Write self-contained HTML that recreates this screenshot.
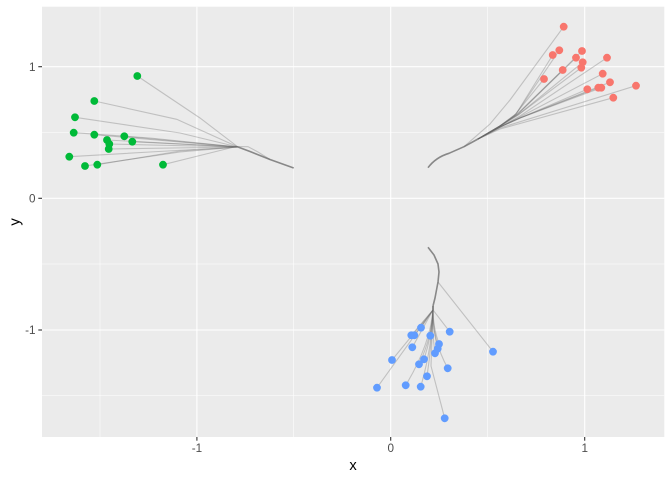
<!DOCTYPE html>
<html><head><meta charset="utf-8"><style>html,body{margin:0;padding:0;background:#fff}svg{display:block}</style></head>
<body>
<svg width="672" height="480" viewBox="0 0 672 480" xmlns="http://www.w3.org/2000/svg" font-family="Liberation Sans, sans-serif">
<rect x="0" y="0" width="672" height="480" fill="#fff"/>
<rect x="42" y="6.7" width="622.3" height="430.3" fill="#EBEBEB"/>
<g stroke="#fff" stroke-width="0.55" fill="none">
<line x1="100" y1="6.7" x2="100" y2="437"/>
<line x1="293.7" y1="6.7" x2="293.7" y2="437"/>
<line x1="487.7" y1="6.7" x2="487.7" y2="437"/>
<line x1="42" y1="132.6" x2="664.3" y2="132.6"/>
<line x1="42" y1="264" x2="664.3" y2="264"/>
<line x1="42" y1="395.6" x2="664.3" y2="395.6"/>
</g>
<g stroke="#fff" stroke-width="1.1" fill="none">
<line x1="196.9" y1="6.7" x2="196.9" y2="437"/>
<line x1="390.7" y1="6.7" x2="390.7" y2="437"/>
<line x1="584.7" y1="6.7" x2="584.7" y2="437"/>
<line x1="42" y1="66.7" x2="664.3" y2="66.7"/>
<line x1="42" y1="198.3" x2="664.3" y2="198.3"/>
<line x1="42" y1="330" x2="664.3" y2="330"/>
</g>
<!-- trunks -->
<g stroke="#888" stroke-width="1.6" fill="none" stroke-linejoin="round">
<path d="M293.7,168 L270,159.5 L250,151.5 L238,147"/>
<path d="M428,167.7 C433,161 440,156 449,153.3 L464,146.7 L478,139"/>
<path d="M428,247.3 L434,255 L438,264 L439,272 L438,282 L435,298 L433,306"/>
</g>
<!-- green lines -->
<g stroke="#666" stroke-opacity="0.32" stroke-width="1.1" fill="none">
<path d="M238,147 L200,118 L137.3,76"/>
<path d="M238,147 L176.7,119.3 L94.3,101"/>
<path d="M238,147 L180,133 L75,117.3"/>
<path d="M238,147 L150,138 L73.7,132.7"/>
<path d="M238,147 L94.3,134.7"/>
<path d="M238,147 L107,140"/>
<path d="M238,147 L109.3,144"/>
<path d="M238,147 L108.7,149"/>
<path d="M238,147 L124.3,136.3"/>
<path d="M238,147 L132.3,141.7"/>
<path d="M238,147 L150,152 L69.3,156.7"/>
<path d="M238,147 L180,152 L85,166"/>
<path d="M238,147 L180,151 L97.3,164.7"/>
<path d="M270,159.5 L258,152 L248,146.7 L236,146.5 L210,153 L163,164.7"/>
</g>
<!-- red lines -->
<g stroke="#666" stroke-opacity="0.32" stroke-width="1.1" fill="none">
<path d="M464,146.7 L490,124 L510,100 L563.7,26.7"/>
<path d="M478,139 L500,126 L516,114 L552.7,55"/>
<path d="M478,139 L500,126 L516,114 L559.3,50.3"/>
<path d="M478,139 L500,126 L518,114 L582,51"/>
<path d="M478,139 L500,126 L518,114 L576,57.7"/>
<path d="M478,139 L500,126 L518,115 L582.7,62.3"/>
<path d="M478,139 L500,126 L518,115 L581.3,67.7"/>
<path d="M478,139 L500,126 L516,115 L562.7,70"/>
<path d="M478,139 L500,126 L514,116 L544,79"/>
<path d="M478,139 L500,127 L520,116 L607,57.7"/>
<path d="M478,139 L500,127 L520,117 L602.7,73.7"/>
<path d="M478,139 L500,127 L520,118 L610,82.3"/>
<path d="M478,139 L500,127 L520,118 L587.3,89.3"/>
<path d="M478,139 L500,127 L520,118 L598.3,87.7"/>
<path d="M478,139 L500,127 L520,118 L601.3,87.7"/>
<path d="M478,139 L500,128 L636,85.7"/>
<path d="M478,139 L500,129 L613.3,97.7"/>
</g>
<!-- blue lines -->
<g stroke="#666" stroke-opacity="0.32" stroke-width="1.1" fill="none">
<path d="M438,282 L493,351.7"/>
<path d="M433,306 L433,310 L421,327.7"/>
<path d="M433,306 L433,310 L449.7,331.7"/>
<path d="M433,306 L433,310 L411.3,335.3"/>
<path d="M433,306 L433,310 L414.3,335.3"/>
<path d="M433,306 L433,310 L430.3,335.7"/>
<path d="M433,306 L433,310 L412.3,347.3"/>
<path d="M433,306 L433,310 Q433,327 439,344"/>
<path d="M433,306 L433,310 Q433,330 437.7,348.7"/>
<path d="M433,306 L433,310 Q432,332 435,353.3"/>
<path d="M433,306 L433,310 L392,360"/>
<path d="M433,306 L433,310 Q432,335 424,359.3"/>
<path d="M433,306 L433,310 Q432,337 419,364.3"/>
<path d="M433,306 L433,310 Q432,339 447.7,368.3"/>
<path d="M433,306 L433,310 Q432,343 427,376.3"/>
<path d="M433,306 L433,310 Q430,345 405.7,385.3"/>
<path d="M433,306 L433,310 Q432,348 420.7,386.7"/>
<path d="M433,306 L433,310 L377,387.7"/>
<path d="M433,306 L433,310 L431,366 L444.7,418.3"/>
</g>
<!-- points -->
<g fill="#00BA38">
<circle cx="137.3" cy="76" r="3.9"/><circle cx="94.3" cy="101" r="3.9"/><circle cx="75" cy="117.3" r="3.9"/>
<circle cx="73.7" cy="132.7" r="3.9"/><circle cx="94.3" cy="134.7" r="3.9"/><circle cx="107" cy="140" r="3.9"/>
<circle cx="109.3" cy="144" r="3.9"/><circle cx="108.7" cy="149" r="3.9"/><circle cx="124.3" cy="136.3" r="3.9"/>
<circle cx="132.3" cy="141.7" r="3.9"/><circle cx="69.3" cy="156.7" r="3.9"/><circle cx="85" cy="166" r="3.9"/>
<circle cx="97.3" cy="164.7" r="3.9"/><circle cx="163" cy="164.7" r="3.9"/>
</g>
<g fill="#F8766D">
<circle cx="563.7" cy="26.7" r="3.9"/><circle cx="552.7" cy="55" r="3.9"/><circle cx="559.3" cy="50.3" r="3.9"/>
<circle cx="582" cy="51" r="3.9"/><circle cx="576" cy="57.7" r="3.9"/><circle cx="582.7" cy="62.3" r="3.9"/>
<circle cx="581.3" cy="67.7" r="3.9"/><circle cx="562.7" cy="70" r="3.9"/><circle cx="544" cy="79" r="3.9"/>
<circle cx="607" cy="57.7" r="3.9"/><circle cx="602.7" cy="73.7" r="3.9"/><circle cx="610" cy="82.3" r="3.9"/>
<circle cx="587.3" cy="89.3" r="3.9"/><circle cx="598.3" cy="87.7" r="3.9"/><circle cx="601.3" cy="87.7" r="3.9"/>
<circle cx="636" cy="85.7" r="3.9"/><circle cx="613.3" cy="97.7" r="3.9"/>
</g>
<g fill="#619CFF">
<circle cx="421" cy="327.7" r="3.9"/><circle cx="449.7" cy="331.7" r="3.9"/><circle cx="411.3" cy="335.3" r="3.9"/>
<circle cx="414.3" cy="335.3" r="3.9"/><circle cx="430.3" cy="335.7" r="3.9"/><circle cx="412.3" cy="347.3" r="3.9"/>
<circle cx="439" cy="344" r="3.9"/><circle cx="437.7" cy="348.7" r="3.9"/><circle cx="435" cy="353.3" r="3.9"/>
<circle cx="392" cy="360" r="3.9"/><circle cx="424" cy="359.3" r="3.9"/><circle cx="419" cy="364.3" r="3.9"/>
<circle cx="447.7" cy="368.3" r="3.9"/><circle cx="427" cy="376.3" r="3.9"/><circle cx="405.7" cy="385.3" r="3.9"/>
<circle cx="420.7" cy="386.7" r="3.9"/><circle cx="377" cy="387.7" r="3.9"/><circle cx="444.7" cy="418.3" r="3.9"/>
<circle cx="493" cy="351.7" r="3.9"/>
</g>
<!-- ticks -->
<g stroke="#333" stroke-width="1.1">
<line x1="38.3" y1="66.7" x2="42" y2="66.7"/>
<line x1="38.3" y1="198.3" x2="42" y2="198.3"/>
<line x1="38.3" y1="330" x2="42" y2="330"/>
<line x1="196.9" y1="437" x2="196.9" y2="440.7"/>
<line x1="390.7" y1="437" x2="390.7" y2="440.7"/>
<line x1="584.7" y1="437" x2="584.7" y2="440.7"/>
</g>
<g fill="#4D4D4D" font-size="11.7">
<text x="35.5" y="70.8" text-anchor="end">1</text>
<text x="35.5" y="202.4" text-anchor="end">0</text>
<text x="35.5" y="334.1" text-anchor="end">-1</text>
<text x="196.9" y="452" text-anchor="middle">-1</text>
<text x="390.7" y="452" text-anchor="middle">0</text>
<text x="584.7" y="452" text-anchor="middle">1</text>
</g>
<text x="353" y="470" text-anchor="middle" font-size="14.7" fill="#000">x</text>
<text x="0" y="0" transform="translate(19.5,222) rotate(-90)" text-anchor="middle" font-size="14.7" fill="#000">y</text>
</svg>
</body></html>
